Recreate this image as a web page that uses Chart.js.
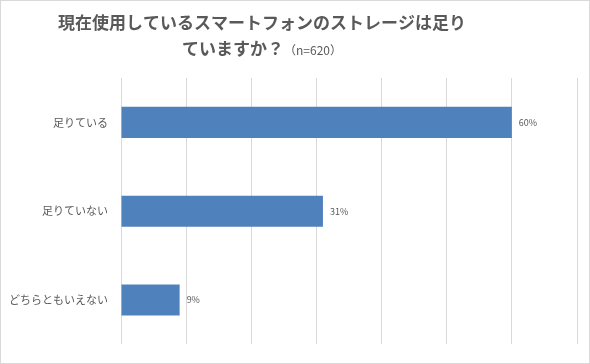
<!DOCTYPE html>
<html>
<head>
<meta charset="utf-8">
<script src="https://cdn.jsdelivr.net/npm/chart.js@4"></script>
<style>
    html, body { margin: 0; padding: 0; background: #fff; }
    #wrap { width: 590px; height: 364px; }
</style>
</head>
<body>
<div id="wrap"><canvas id="chart" width="590" height="364"></canvas></div>
<script>
    // データ
    const categories = ['足りている', '足りていない', 'どちらともいえない'];
    const values = [60, 31, 9];
    const titleLine1 = '現在使用しているスマートフォンのストレージは足り';
    const titleLine2 = 'ていますか？';
    const titleNote = '（n=620）';

    const FONT = '"Noto Sans CJK JP", "Noto Sans", sans-serif';
    const GRAY = '#595959';

    // タイトルと枠線を描く
    const titlePlugin = {
        id: 'titlePlugin',
        afterDraw(chart) {
            const ctx = chart.ctx;
            ctx.save();
            ctx.strokeStyle = '#d9d9d9';
            ctx.lineWidth = 1;
            ctx.strokeRect(0.5, 0.5, chart.width - 1, chart.height - 1);

            ctx.fillStyle = GRAY;
            ctx.textBaseline = 'middle';
            ctx.textAlign = 'center';
            ctx.font = 'bold 17px ' + FONT;
            ctx.fillText(titleLine1, 262, 23);

            const w2 = ctx.measureText(titleLine2).width;
            ctx.font = '12px ' + FONT;
            const wn = ctx.measureText(titleNote).width;
            const x0 = 262 - (w2 + wn) / 2;
            ctx.textAlign = 'left';
            ctx.font = 'bold 17px ' + FONT;
            ctx.fillText(titleLine2, x0, 49);
            ctx.font = '12px ' + FONT;
            ctx.fillText(titleNote, x0 + w2, 50);
            ctx.restore();
        }
    };

    // バーの右側に値を表示
    const labelPlugin = {
        id: 'labelPlugin',
        afterDatasetsDraw(chart) {
            const ctx = chart.ctx;
            const meta = chart.getDatasetMeta(0);
            ctx.save();
            ctx.fillStyle = GRAY;
            ctx.font = '9px ' + FONT;
            ctx.textAlign = 'left';
            ctx.textBaseline = 'middle';
            meta.data.forEach((bar, i) => {
                ctx.fillText(values[i] + '%', bar.x + 7, bar.y);
            });
            ctx.restore();
        }
    };

    new Chart(document.getElementById('chart'), {
        type: 'bar',
        data: {
            labels: categories,
            datasets: [{
                data: values,
                backgroundColor: '#4f81bd',
                borderWidth: 0,
                categoryPercentage: 1,
                barPercentage: 0.35
            }]
        },
        options: {
            indexAxis: 'y',
            responsive: false,
            animation: false,
            layout: { padding: { top: 78, right: 13, bottom: 12, left: 0 } },
            plugins: { legend: { display: false }, tooltip: { enabled: false } },
            scales: {
                x: {
                    min: 0,
                    max: 70,
                    ticks: { stepSize: 10, display: false },
                    grid: { color: '#d9d9d9', drawTicks: false },
                    border: { display: false },
                    afterFit: (scale) => { scale.height = 0; }
                },
                y: {
                    grid: { display: false, drawTicks: false },
                    border: { display: false },
                    ticks: { color: GRAY, font: { family: FONT, size: 11 }, padding: 13 },
                    afterFit: (scale) => { scale.width = 121; }
                }
            }
        },
        plugins: [titlePlugin, labelPlugin]
    });
</script>
</body>
</html>
